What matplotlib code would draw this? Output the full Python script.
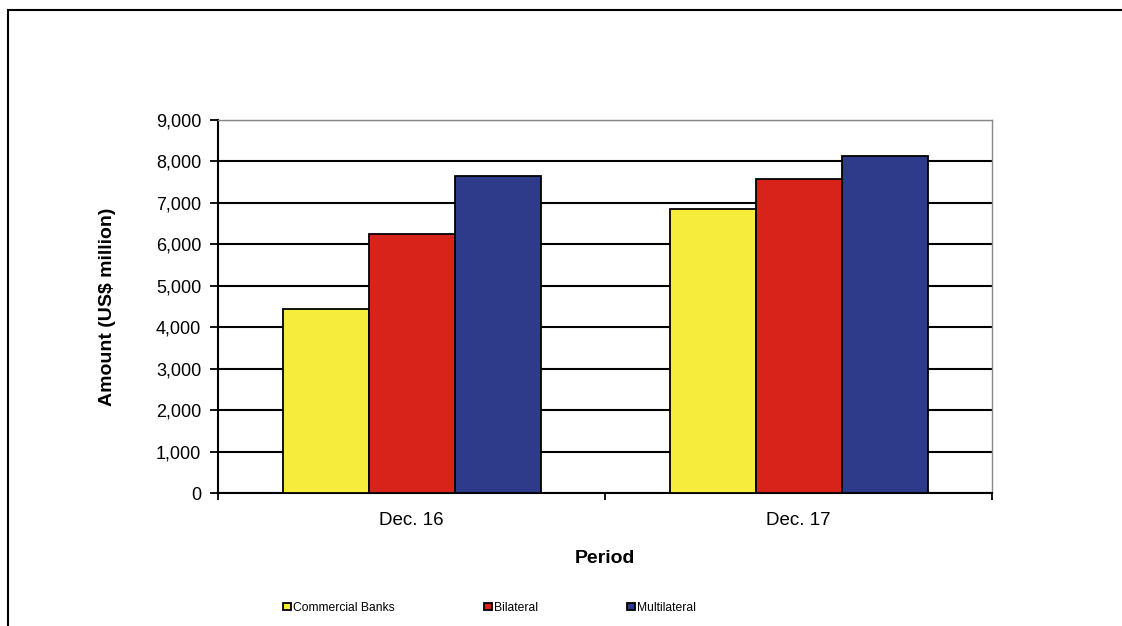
import numpy as np
import matplotlib.pyplot as plt
from matplotlib.patches import Rectangle

periods = ['Dec. 16', 'Dec. 17']
series = ['Commercial Banks', 'Bilateral', 'Multilateral']
commercial = [4450, 6850]
bilateral = [6250, 7580]
multilateral = [7650, 8130]
colors = ['#F6EC3C', '#D8231B', '#2D3B8A']

plt.rcParams['font.family'] = ['Liberation Sans', 'DejaVu Sans']
fig = plt.figure(figsize=(11.22, 6.26), dpi=100)
# outer frame of the chart object
fig.patches.append(Rectangle((8/1122, -0.05), 1.2, 1 - 10/626 + 0.05, transform=fig.transFigure,
                             fill=False, edgecolor='black', linewidth=1.5))
ax = fig.add_axes([218/1122, 1 - 493/626, (992-218)/1122, (493-120)/626])

x = np.arange(len(periods))
w = 1 / 4.5  # gap width 150%
vals = [commercial, bilateral, multilateral]
for i, (v, c, name) in enumerate(zip(vals, colors, series)):
    ax.bar(x + (i - 1) * w, v, w, color=c, edgecolor='black', linewidth=1.3, label=name, zorder=3)

ax.set_xlim(-0.5, 1.5)
ax.set_ylim(0, 9000)
ax.set_yticks(range(0, 9001, 1000))
ax.set_yticklabels([f'{t:,}' for t in range(0, 9001, 1000)], fontsize=13)
ax.yaxis.grid(True, color='black', linewidth=1.5, zorder=0)
ax.set_xticks(x)
ax.set_xticklabels(periods, fontsize=13.5)
ax.set_xticks([-0.5, 0.5, 1.5], minor=True)
ax.tick_params(axis='x', which='major', length=0, pad=14)
ax.tick_params(axis='x', which='minor', length=5, width=1.3, direction='out')
ax.tick_params(axis='y', length=6, width=1.3, direction='out', pad=6)
for s in ['left', 'bottom']:
    ax.spines[s].set_linewidth(1.5)
for s in ['top', 'right']:
    ax.spines[s].set_color('#888888')
    ax.spines[s].set_linewidth(1)

ax.set_ylabel('Amount (US$ million)', fontsize=14, fontweight='bold', labelpad=29)
ax.set_xlabel('Period', fontsize=14, fontweight='bold', labelpad=15)

ax.legend(loc='center', bbox_to_anchor=(0.351, -0.308), ncol=3, frameon=False, fontsize=8.7,
          handlelength=0.6, handleheight=0.6, handletextpad=0.2, columnspacing=7.4)

fig.savefig('out.png', dpi=100)
